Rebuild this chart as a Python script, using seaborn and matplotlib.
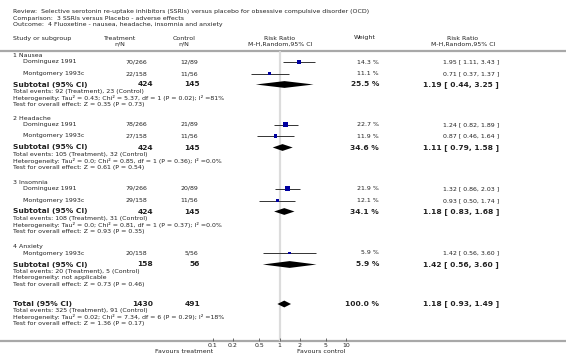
import matplotlib
matplotlib.use("Agg")
import matplotlib.pyplot as plt
import seaborn as sns
import pandas as pd
import numpy as np

# ---------------- data ----------------
title_lines = [
    "Review:  Selective serotonin re-uptake inhibitors (SSRIs) versus placebo for obsessive compulsive disorder (OCD)",
    "Comparison:  3 SSRIs versus Placebo - adverse effects",
    "Outcome:  4 Fluoxetine - nausea, headache, insomnia and anxiety",
]
groups = ["1 Nausea", "2 Headache", "3 Insomnia", "4 Anxiety"]
study_group = [0, 0, 1, 1, 2, 2, 3]
study_names = ["Dominguez 1991", "Montgomery 1993c", "Dominguez 1991", "Montgomery 1993c",
               "Dominguez 1991", "Montgomery 1993c", "Montgomery 1993c"]
treat_nN = ["70/266", "22/158", "78/266", "27/158", "79/266", "29/158", "20/158"]
ctrl_nN = ["12/89", "11/56", "21/89", "11/56", "20/89", "11/56", "5/56"]
rr = [1.95, 0.71, 1.24, 0.87, 1.32, 0.93, 1.42]
rr_lo = [1.11, 0.37, 0.82, 0.46, 0.86, 0.50, 0.56]
rr_hi = [3.43, 1.37, 1.89, 1.64, 2.03, 1.74, 3.60]
weights = [14.3, 11.1, 22.7, 11.9, 21.9, 12.1, 5.9]

sub_treat_N = ["424", "424", "424", "158"]
sub_ctrl_N = ["145", "145", "145", "56"]
sub_rr = [1.19, 1.11, 1.18, 1.42]
sub_lo = [0.44, 0.79, 0.83, 0.56]
sub_hi = [3.25, 1.58, 1.68, 3.60]
sub_weight = [25.5, 34.6, 34.1, 5.9]
sub_events = ["Total events: 92 (Treatment), 23 (Control)",
              "Total events: 105 (Treatment), 32 (Control)",
              "Total events: 108 (Treatment), 31 (Control)",
              "Total events: 20 (Treatment), 5 (Control)"]
sub_het = ["Heterogeneity: Tau² = 0.43; Chi² = 5.37, df = 1 (P = 0.02); I² =81%",
           "Heterogeneity: Tau² = 0.0; Chi² = 0.85, df = 1 (P = 0.36); I² =0.0%",
           "Heterogeneity: Tau² = 0.0; Chi² = 0.81, df = 1 (P = 0.37); I² =0.0%",
           "Heterogeneity: not applicable"]
sub_test = ["Test for overall effect: Z = 0.35 (P = 0.73)",
            "Test for overall effect: Z = 0.61 (P = 0.54)",
            "Test for overall effect: Z = 0.93 (P = 0.35)",
            "Test for overall effect: Z = 0.73 (P = 0.46)"]

total_treat_N = "1430"
total_ctrl_N = "491"
total_rr, total_lo, total_hi = 1.18, 0.93, 1.49
total_weight = 100.0
total_lines = ["Total events: 325 (Treatment), 91 (Control)",
               "Heterogeneity: Tau² = 0.02; Chi² = 7.34, df = 6 (P = 0.29); I² =18%",
               "Test for overall effect: Z = 1.36 (P = 0.17)"]
xticks = [0.1, 0.2, 0.5, 1, 2, 5, 10]
xtick_labels = ["0.1", "0.2", "0.5", "1", "2", "5", "10"]
fav_left, fav_right = "Favours treatment", "Favours control"

# ---------------- layout (pixel rows) ----------------
W, H = 566, 364
group_y = [55.5, 118, 182, 246.5]
study_y = [62, 73.5, 124.5, 136, 188.5, 200.5, 253]
sub_y = [84.5, 147.5, 211.5, 264.5]
total_y = 304
line_step = 6.6
axis_y = 341
header_line_y = 51

x_left = 13
x_indent = 23
x_treat_c = 120
x_treat_r = 147
x_treat_rb = 153
x_ctrl_c = 184
x_ctrl_r = 198
x_ctrl_rb = 200
x_plot_c = 280
x_weight_c = 365
x_weight_r = 379
x_rr_c = 463
x_rr_r = 499

fs = 4.5
fsb = 5.4
txt = "#222222"
grey = "#a8a8a8"

sns.set_theme(style="white")
plt.rcParams["font.family"] = ["DejaVu Sans"]

fig = plt.figure(figsize=(W / 100, H / 100), dpi=100)
bg = fig.add_axes([0, 0, 1, 1])
bg.set_xlim(0, W)
bg.set_ylim(H, 0)
bg.axis("off")

def t(x, y, s, ha="left", bold=False, size=None, color=txt):
    bg.text(x, y, s, ha=ha, va="center", fontsize=size or (fsb if bold else fs),
            fontweight="bold" if bold else "normal", color=color)

# titles
for i, line in enumerate(title_lines):
    t(x_left, 12 + i * 6.3, line)

# headers
t(x_left, 38.5, "Study or subgroup")
t(x_treat_c, 38, "Treatment", ha="center")
t(x_treat_c, 44.5, "n/N", ha="center")
t(x_ctrl_c, 38, "Control", ha="center")
t(x_ctrl_c, 44.5, "n/N", ha="center")
t(x_plot_c, 38, "Risk Ratio", ha="center")
t(x_plot_c, 44.5, "M-H,Random,95% CI", ha="center")
t(x_weight_c, 38, "Weight", ha="center")
t(x_rr_c, 38, "Risk Ratio", ha="center")
t(x_rr_c, 44.5, "M-H,Random,95% CI", ha="center")

bg.axhline(header_line_y, color=grey, lw=1.6)
bg.axhline(axis_y, color=grey, lw=1.6)

# group labels
for g, y in zip(groups, group_y):
    t(x_left, y, g)

# study rows text
for i in range(len(study_names)):
    y = study_y[i]
    t(x_indent, y, study_names[i])
    t(x_treat_r, y, treat_nN[i], ha="right")
    t(x_ctrl_r, y, ctrl_nN[i], ha="right")
    t(x_weight_r, y, f"{weights[i]:.1f} %", ha="right")
    t(x_rr_r, y, f"{rr[i]:.2f} [ {rr_lo[i]:.2f}, {rr_hi[i]:.2f} ]", ha="right")

# subtotals
for j in range(len(groups)):
    y = sub_y[j]
    t(x_left, y, "Subtotal (95% CI)", bold=True)
    t(x_treat_rb, y, sub_treat_N[j], ha="right", bold=True)
    t(x_ctrl_rb, y, sub_ctrl_N[j], ha="right", bold=True)
    t(x_weight_r, y, f"{sub_weight[j]:.1f} %", ha="right", bold=True)
    t(x_rr_r, y, f"{sub_rr[j]:.2f} [ {sub_lo[j]:.2f}, {sub_hi[j]:.2f} ]", ha="right", bold=True)
    for k, s in enumerate([sub_events[j], sub_het[j], sub_test[j]]):
        t(x_left, y + 6.8 + k * line_step, s)

# total
t(x_left, total_y, "Total (95% CI)", bold=True)
t(x_treat_rb, total_y, total_treat_N, ha="right", bold=True)
t(x_ctrl_rb, total_y, total_ctrl_N, ha="right", bold=True)
t(x_weight_r, total_y, f"{total_weight:.1f} %", ha="right", bold=True)
t(x_rr_r, total_y, f"{total_rr:.2f} [ {total_lo:.2f}, {total_hi:.2f} ]", ha="right", bold=True)
for k, s in enumerate(total_lines):
    t(x_left, total_y + 6.8 + k * line_step, s)

# ---------------- forest axes ----------------
px0, px1 = 213, 346
fax = fig.add_axes([px0 / W, (H - axis_y) / H, (px1 - px0) / W, (axis_y - header_line_y) / H])
fax.patch.set_alpha(0)
fax.set_xscale("log")
fax.set_xlim(0.1, 10)
fax.set_ylim(axis_y, header_line_y)
for sp in fax.spines.values():
    sp.set_visible(False)
fax.axvline(1, ymin=0, ymax=0.995, color="#dcdcdc", lw=1.6, zorder=0)

df = pd.DataFrame({"rr": rr, "lo": rr_lo, "hi": rr_hi, "w": weights, "y": study_y})
fax.hlines(df["y"], df["lo"], df["hi"], color="#333333", lw=0.7, zorder=2)
sns.scatterplot(data=df, x="rr", y="y", size="w", sizes=(3.2, 12.5), marker="s",
                color="#0000a0", linewidth=0, legend=False, ax=fax, zorder=3)
fax.set_xlabel("")
fax.set_ylabel("")

def diamond(est, lo, hi, y, h=3.4):
    fax.fill([lo, est, hi, est], [y, y - h, y, y + h], color="black", lw=0, zorder=3)

for j in range(len(groups)):
    diamond(sub_rr[j], sub_lo[j], sub_hi[j], sub_y[j])
diamond(total_rr, total_lo, total_hi, total_y)

fax.set_yticks([])
fax.set_xticks(xticks)
fax.set_xticklabels(xtick_labels)
fax.minorticks_off()
fax.tick_params(axis="x", direction="in", length=2.5, width=0.6, color="#555555",
                labelsize=fs, labelcolor=txt, pad=1.2, bottom=True)

t(px0, 351.5, fav_left, ha="right")
t(297, 351.5, fav_right, ha="left")

fig.savefig("out.png", dpi=100)
